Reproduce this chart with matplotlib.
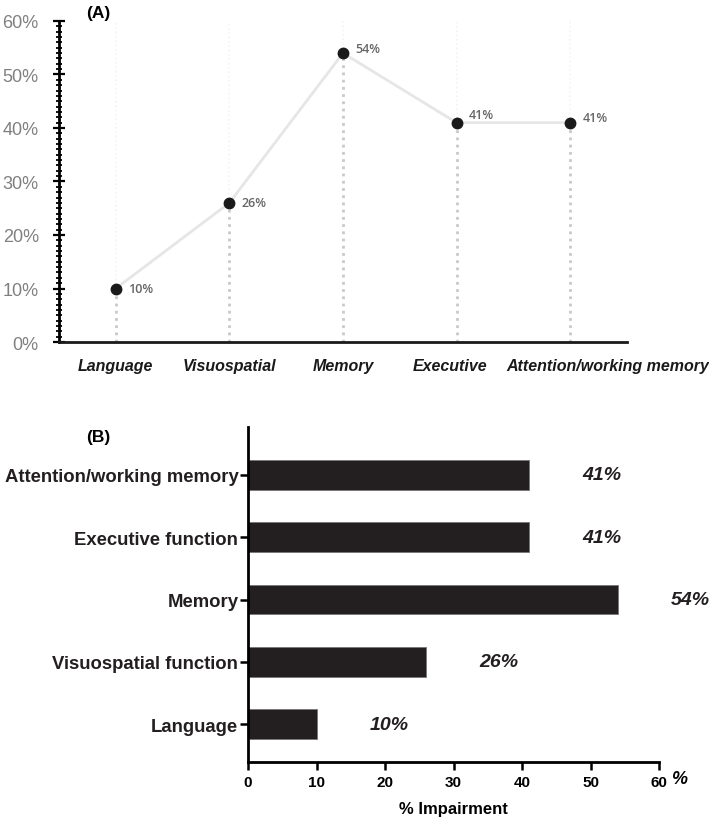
import matplotlib
matplotlib.use("Agg")
import matplotlib.pyplot as plt
from matplotlib.ticker import MultipleLocator, FuncFormatter
import numpy as np

plt.rcParams['font.family'] = ['Liberation Sans', 'DejaVu Sans']

# ---- data ----
cats_a = ["Language", "Visuospatial", "Memory", "Executive", "Attention/working memory"]
vals_a = [10, 26, 54, 41, 41]
labels_a = ["10%", "26%", "54%", "41%", "41%"]

cats_b = ["Language", "Visuospatial function", "Memory", "Executive function", "Attention/working memory"]
vals_b = [10, 26, 54, 41, 41]
labels_b = ["10%", "26%", "54%", "41%", "41%"]

yticks_a = [0, 10, 20, 30, 40, 50, 60]
xticks_b = [0, 10, 20, 30, 40, 50, 60]

# style-only offsets (points)
label_dy = [0, 0, 3, 6, 4]
xlabel_dx = [0, 0, 0, -5, 27]

fig = plt.figure(figsize=(7.09, 8.20), dpi=100)

# ---------- Panel A ----------
axA = fig.add_axes([0.0832, 0.5817, 0.801, 0.3915])
xa = np.arange(len(cats_a))
for xi, v in zip(xa, vals_a):
    axA.plot([xi, xi], [0, v], color='#c9c9c9', linestyle=(0, (1, 1.6)), lw=2.0, zorder=1)
    axA.plot([xi, xi], [v, 60], color='#f3f3f3', linestyle=(0, (1, 1.6)), lw=1.2, zorder=0)
axA.plot(xa, vals_a, color='#e6e6e6', lw=2.0, zorder=2)
axA.plot(xa, vals_a, 'o', color='#1a1a1a', markersize=7.5, zorder=3)
for xi, v, lab, dy in zip(xa, vals_a, labels_a, label_dy):
    axA.annotate(lab, (xi, v), xytext=(9, dy), textcoords='offset points',
                 ha='left', va='center', fontsize=9, color='#666666',
                 family=['Open Sans', 'DejaVu Sans'], fontweight='semibold')
axA.set_xlim(-0.5, 4.5)
axA.set_ylim(0, 60)
axA.set_yticks(yticks_a)
axA.yaxis.set_major_formatter(FuncFormatter(lambda v, p: f"{int(v)}%"))
axA.yaxis.set_minor_locator(MultipleLocator(1))
axA.set_xticks(xa)
axA.set_xticklabels([])
for xi, cat, dx in zip(xa, cats_a, xlabel_dx):
    axA.annotate(cat, (xi, 0), xycoords=('data', 'axes fraction'),
                 xytext=(dx, -17), textcoords='offset points',
                 ha='center', va='center', fontsize=11.5, fontweight='bold',
                 fontstyle='italic', color='#1a1a1a', annotation_clip=False)
axA.tick_params(axis='x', length=0)
axA.tick_params(axis='y', which='major', direction='inout', length=9, width=1.6,
                labelsize=13, labelcolor='#808080', pad=10)
axA.tick_params(axis='y', which='minor', direction='inout', length=5, width=1.3)
for s in ['top', 'right']:
    axA.spines[s].set_visible(False)
axA.spines['left'].set_linewidth(2.0)
axA.spines['bottom'].set_linewidth(2.0)
axA.spines['bottom'].set_color('#1a1a1a')
fig.text(0.138, 0.984, "(A)", fontsize=12.5, fontweight='bold', ha='center', va='center')

# ---------- Panel B ----------
axB = fig.add_axes([0.3498, 0.0695, 0.5797, 0.4085])
yb = np.arange(len(cats_b))
axB.barh(yb, vals_b, height=0.48, color='#231f20', edgecolor='#777777', linewidth=0.6)
for yi, v, lab in zip(yb, vals_b, labels_b):
    axB.text(v + 10.6, yi, lab, ha='center', va='center', fontsize=14,
             fontweight='bold', fontstyle='italic', color='#231f20')
axB.set_xlim(0, 60)
axB.set_ylim(-0.61, 4.77)
axB.set_xticks(xticks_b)
axB.set_yticks(yb)
axB.set_yticklabels(cats_b, fontsize=13.3, fontweight='bold', color='#231f20')
axB.tick_params(axis='x', length=6, width=1.8, labelsize=11, pad=3)
for lab in axB.get_xticklabels():
    lab.set_fontweight('bold')
axB.tick_params(axis='y', length=6, width=1.8, pad=1)
for s in ['top', 'right']:
    axB.spines[s].set_visible(False)
axB.spines['left'].set_linewidth(2.0)
axB.spines['bottom'].set_linewidth(2.0)
axB.set_xlabel("% Impairment", fontsize=12, fontweight='bold', labelpad=9)
axB.text(1.03, -0.05, "%", transform=axB.transAxes, fontsize=13, fontweight='bold',
         fontstyle='italic', ha='left', va='center')
fig.text(0.138, 0.467, "(B)", fontsize=12.5, fontweight='bold', ha='center', va='center')

fig.savefig("out.png", dpi=100)
